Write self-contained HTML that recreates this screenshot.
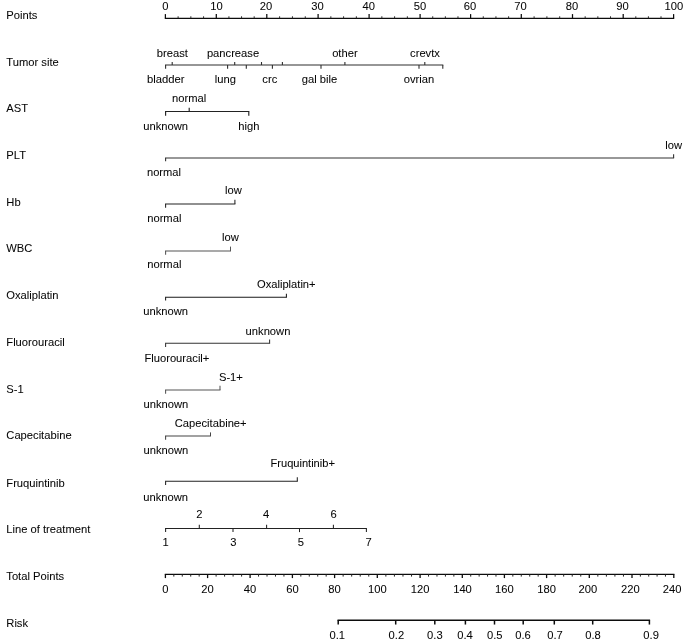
<!DOCTYPE html>
<html><head><meta charset="utf-8"><title>Nomogram</title>
<style>
html,body{margin:0;padding:0;background:#fff;}
body{width:685px;height:642px;overflow:hidden;}
svg{display:block;}
text{font-family:"Liberation Sans",Arial,Helvetica,sans-serif;fill:#050505;stroke:#050505;stroke-width:0.05px;}
path{fill:none;}
</style></head><body>
<svg width="685" height="642" viewBox="0 0 685 642">
<rect width="685" height="642" fill="#fff"/>
<text x="6.30" y="18.80" text-anchor="start" font-size="11.2">Points</text>
<path d="M164.80 18.30L674.20 18.30" stroke="#0c0c0c" stroke-width="1.25"/>
<path d="M165.40 18.30L165.40 14.10" stroke="#0c0c0c" stroke-width="1.25"/>
<text x="165.30" y="10.10" text-anchor="middle" font-size="11.2">0</text>
<path d="M178.12 18.30L178.12 16.30" stroke="#2a2a2a" stroke-width="1.0"/>
<path d="M190.85 18.30L190.85 16.30" stroke="#2a2a2a" stroke-width="1.0"/>
<path d="M203.58 18.30L203.58 16.30" stroke="#2a2a2a" stroke-width="1.0"/>
<path d="M216.30 18.30L216.30 14.10" stroke="#0c0c0c" stroke-width="1.25"/>
<text x="216.40" y="10.10" text-anchor="middle" font-size="11.2">10</text>
<path d="M228.93 18.30L228.93 16.30" stroke="#2a2a2a" stroke-width="1.0"/>
<path d="M241.55 18.30L241.55 16.30" stroke="#2a2a2a" stroke-width="1.0"/>
<path d="M254.18 18.30L254.18 16.30" stroke="#2a2a2a" stroke-width="1.0"/>
<path d="M266.80 18.30L266.80 14.10" stroke="#0c0c0c" stroke-width="1.25"/>
<text x="266.10" y="10.10" text-anchor="middle" font-size="11.2">20</text>
<path d="M279.62 18.30L279.62 16.30" stroke="#2a2a2a" stroke-width="1.0"/>
<path d="M292.45 18.30L292.45 16.30" stroke="#2a2a2a" stroke-width="1.0"/>
<path d="M305.28 18.30L305.28 16.30" stroke="#2a2a2a" stroke-width="1.0"/>
<path d="M318.10 18.30L318.10 14.10" stroke="#0c0c0c" stroke-width="1.25"/>
<text x="317.40" y="10.10" text-anchor="middle" font-size="11.2">30</text>
<path d="M330.85 18.30L330.85 16.30" stroke="#2a2a2a" stroke-width="1.0"/>
<path d="M343.60 18.30L343.60 16.30" stroke="#2a2a2a" stroke-width="1.0"/>
<path d="M356.35 18.30L356.35 16.30" stroke="#2a2a2a" stroke-width="1.0"/>
<path d="M369.10 18.30L369.10 14.10" stroke="#0c0c0c" stroke-width="1.25"/>
<text x="368.80" y="10.10" text-anchor="middle" font-size="11.2">40</text>
<path d="M381.85 18.30L381.85 16.30" stroke="#2a2a2a" stroke-width="1.0"/>
<path d="M394.60 18.30L394.60 16.30" stroke="#2a2a2a" stroke-width="1.0"/>
<path d="M407.35 18.30L407.35 16.30" stroke="#2a2a2a" stroke-width="1.0"/>
<path d="M420.10 18.30L420.10 14.10" stroke="#0c0c0c" stroke-width="1.25"/>
<text x="419.90" y="10.10" text-anchor="middle" font-size="11.2">50</text>
<path d="M432.73 18.30L432.73 16.30" stroke="#2a2a2a" stroke-width="1.0"/>
<path d="M445.35 18.30L445.35 16.30" stroke="#2a2a2a" stroke-width="1.0"/>
<path d="M457.98 18.30L457.98 16.30" stroke="#2a2a2a" stroke-width="1.0"/>
<path d="M470.60 18.30L470.60 14.10" stroke="#0c0c0c" stroke-width="1.25"/>
<text x="469.90" y="10.10" text-anchor="middle" font-size="11.2">60</text>
<path d="M483.27 18.30L483.27 16.30" stroke="#2a2a2a" stroke-width="1.0"/>
<path d="M495.95 18.30L495.95 16.30" stroke="#2a2a2a" stroke-width="1.0"/>
<path d="M508.62 18.30L508.62 16.30" stroke="#2a2a2a" stroke-width="1.0"/>
<path d="M521.30 18.30L521.30 14.10" stroke="#0c0c0c" stroke-width="1.25"/>
<text x="520.50" y="10.10" text-anchor="middle" font-size="11.2">70</text>
<path d="M534.10 18.30L534.10 16.30" stroke="#2a2a2a" stroke-width="1.0"/>
<path d="M546.90 18.30L546.90 16.30" stroke="#2a2a2a" stroke-width="1.0"/>
<path d="M559.70 18.30L559.70 16.30" stroke="#2a2a2a" stroke-width="1.0"/>
<path d="M572.50 18.30L572.50 14.10" stroke="#0c0c0c" stroke-width="1.25"/>
<text x="572.10" y="10.10" text-anchor="middle" font-size="11.2">80</text>
<path d="M585.17 18.30L585.17 16.30" stroke="#2a2a2a" stroke-width="1.0"/>
<path d="M597.85 18.30L597.85 16.30" stroke="#2a2a2a" stroke-width="1.0"/>
<path d="M610.53 18.30L610.53 16.30" stroke="#2a2a2a" stroke-width="1.0"/>
<path d="M623.20 18.30L623.20 14.10" stroke="#0c0c0c" stroke-width="1.25"/>
<text x="622.60" y="10.10" text-anchor="middle" font-size="11.2">90</text>
<path d="M635.80 18.30L635.80 16.30" stroke="#2a2a2a" stroke-width="1.0"/>
<path d="M648.40 18.30L648.40 16.30" stroke="#2a2a2a" stroke-width="1.0"/>
<path d="M661.00 18.30L661.00 16.30" stroke="#2a2a2a" stroke-width="1.0"/>
<path d="M673.60 18.30L673.60 14.10" stroke="#0c0c0c" stroke-width="1.25"/>
<text x="673.80" y="10.10" text-anchor="middle" font-size="11.2">100</text>
<text x="6.30" y="65.60" text-anchor="start" font-size="11.2">Tumor site</text>
<path d="M165.00 65.00L443.30 65.00" stroke="#2e2e2e" stroke-width="1.1"/>
<path d="M165.60 65.00L165.60 68.70" stroke="#2e2e2e" stroke-width="1.1"/>
<text x="165.70" y="83.20" text-anchor="middle" font-size="11.2" textLength="37.6" lengthAdjust="spacingAndGlyphs">bladder</text>
<path d="M172.20 65.00L172.20 62.00" stroke="#2e2e2e" stroke-width="1.1"/>
<text x="172.40" y="56.70" text-anchor="middle" font-size="11.2">breast</text>
<path d="M227.60 65.00L227.60 68.70" stroke="#2e2e2e" stroke-width="1.1"/>
<text x="225.30" y="83.20" text-anchor="middle" font-size="11.2">lung</text>
<path d="M234.70 65.00L234.70 62.00" stroke="#2e2e2e" stroke-width="1.1"/>
<text x="233.00" y="56.70" text-anchor="middle" font-size="11.2">pancrease</text>
<path d="M246.30 65.00L246.30 68.70" stroke="#2e2e2e" stroke-width="1.1"/>
<path d="M261.50 65.00L261.50 62.00" stroke="#2e2e2e" stroke-width="1.1"/>
<path d="M272.40 65.00L272.40 68.70" stroke="#2e2e2e" stroke-width="1.1"/>
<text x="269.80" y="83.20" text-anchor="middle" font-size="11.2">crc</text>
<path d="M282.40 65.00L282.40 62.00" stroke="#2e2e2e" stroke-width="1.1"/>
<path d="M321.00 65.00L321.00 68.70" stroke="#2e2e2e" stroke-width="1.1"/>
<text x="319.50" y="83.20" text-anchor="middle" font-size="11.2">gal bile</text>
<path d="M344.90 65.00L344.90 62.00" stroke="#2e2e2e" stroke-width="1.1"/>
<text x="344.90" y="56.70" text-anchor="middle" font-size="11.2">other</text>
<path d="M419.00 65.00L419.00 68.70" stroke="#2e2e2e" stroke-width="1.1"/>
<text x="419.00" y="83.20" text-anchor="middle" font-size="11.2">ovrian</text>
<path d="M424.80 65.00L424.80 62.00" stroke="#2e2e2e" stroke-width="1.1"/>
<text x="425.00" y="56.70" text-anchor="middle" font-size="11.2">crevtx</text>
<path d="M442.80 65.00L442.80 68.70" stroke="#2e2e2e" stroke-width="1.1"/>
<text x="6.30" y="112.00" text-anchor="start" font-size="11.2">AST</text>
<path d="M165.00 111.45L249.30 111.45" stroke="#222" stroke-width="1.15"/>
<path d="M165.60 111.45L165.60 115.75" stroke="#222" stroke-width="1.15"/>
<text x="165.60" y="129.85" text-anchor="middle" font-size="11.2">unknown</text>
<path d="M189.20 111.45L189.20 107.75" stroke="#222" stroke-width="1.15"/>
<text x="189.20" y="102.45" text-anchor="middle" font-size="11.2">normal</text>
<path d="M248.80 111.45L248.80 115.75" stroke="#222" stroke-width="1.15"/>
<text x="248.80" y="129.85" text-anchor="middle" font-size="11.2">high</text>
<text x="6.30" y="159.00" text-anchor="start" font-size="11.2">PLT</text>
<path d="M165.00 157.95L674.10 157.95" stroke="#333" stroke-width="1.1"/>
<path d="M165.60 157.95L165.60 161.15" stroke="#333" stroke-width="1.1"/>
<text x="164.00" y="175.90" text-anchor="middle" font-size="11.2" textLength="34.0" lengthAdjust="spacingAndGlyphs">normal</text>
<path d="M673.60 157.95L673.60 154.35" stroke="#333" stroke-width="1.1"/>
<text x="673.60" y="149.40" text-anchor="middle" font-size="11.2">low</text>
<text x="6.30" y="205.60" text-anchor="start" font-size="11.2">Hb</text>
<path d="M165.00 204.00L235.40 204.00" stroke="#222" stroke-width="1.05"/>
<path d="M165.60 204.00L165.60 207.70" stroke="#222" stroke-width="1.05"/>
<text x="164.30" y="221.60" text-anchor="middle" font-size="11.2">normal</text>
<path d="M234.90 204.00L234.90 199.80" stroke="#222" stroke-width="1.05"/>
<text x="233.40" y="194.30" text-anchor="middle" font-size="11.2">low</text>
<text x="6.30" y="252.10" text-anchor="start" font-size="11.2">WBC</text>
<path d="M165.00 251.00L231.00 251.00" stroke="#555" stroke-width="1.05"/>
<path d="M165.60 251.00L165.60 254.70" stroke="#555" stroke-width="1.05"/>
<text x="164.30" y="268.40" text-anchor="middle" font-size="11.2">normal</text>
<path d="M230.50 251.00L230.50 246.60" stroke="#555" stroke-width="1.05"/>
<text x="230.50" y="240.90" text-anchor="middle" font-size="11.2">low</text>
<text x="6.30" y="298.90" text-anchor="start" font-size="11.2">Oxaliplatin</text>
<path d="M165.00 297.30L286.90 297.30" stroke="#1a1a1a" stroke-width="1.05"/>
<path d="M165.60 297.30L165.60 300.60" stroke="#1a1a1a" stroke-width="1.05"/>
<text x="165.60" y="314.50" text-anchor="middle" font-size="11.2">unknown</text>
<path d="M286.40 297.30L286.40 293.70" stroke="#1a1a1a" stroke-width="1.05"/>
<text x="286.30" y="287.50" text-anchor="middle" font-size="11.2" textLength="58.6" lengthAdjust="spacingAndGlyphs">Oxaliplatin+</text>
<text x="6.30" y="345.90" text-anchor="start" font-size="11.2">Fluorouracil</text>
<path d="M165.00 343.20L270.10 343.20" stroke="#333" stroke-width="1.05"/>
<path d="M165.60 343.20L165.60 346.90" stroke="#333" stroke-width="1.05"/>
<text x="176.90" y="362.20" text-anchor="middle" font-size="11.2">Fluorouracil+</text>
<path d="M269.60 343.20L269.60 339.60" stroke="#333" stroke-width="1.05"/>
<text x="268.00" y="334.70" text-anchor="middle" font-size="11.2">unknown</text>
<text x="6.30" y="393.10" text-anchor="start" font-size="11.2">S-1</text>
<path d="M165.00 390.00L220.50 390.00" stroke="#555" stroke-width="1.05"/>
<path d="M165.60 390.00L165.60 393.70" stroke="#555" stroke-width="1.05"/>
<text x="165.90" y="407.80" text-anchor="middle" font-size="11.2">unknown</text>
<path d="M220.00 390.00L220.00 385.80" stroke="#555" stroke-width="1.05"/>
<text x="230.90" y="380.80" text-anchor="middle" font-size="11.2">S-1+</text>
<text x="6.30" y="439.20" text-anchor="start" font-size="11.2">Capecitabine</text>
<path d="M165.00 436.00L211.00 436.00" stroke="#444" stroke-width="1.05"/>
<path d="M165.60 436.00L165.60 439.70" stroke="#444" stroke-width="1.05"/>
<text x="165.90" y="453.80" text-anchor="middle" font-size="11.2">unknown</text>
<path d="M210.50 436.00L210.50 432.40" stroke="#444" stroke-width="1.05"/>
<text x="210.70" y="426.50" text-anchor="middle" font-size="11.2" textLength="71.8" lengthAdjust="spacingAndGlyphs">Capecitabine+</text>
<text x="6.30" y="486.90" text-anchor="start" font-size="11.2">Fruquintinib</text>
<path d="M165.00 481.20L297.80 481.20" stroke="#222" stroke-width="1.05"/>
<path d="M165.60 481.20L165.60 484.90" stroke="#222" stroke-width="1.05"/>
<text x="165.60" y="500.50" text-anchor="middle" font-size="11.2">unknown</text>
<path d="M297.30 481.20L297.30 477.20" stroke="#222" stroke-width="1.05"/>
<text x="302.70" y="467.10" text-anchor="middle" font-size="11.2" textLength="64.4" lengthAdjust="spacingAndGlyphs">Fruquintinib+</text>
<text x="6.30" y="532.70" text-anchor="start" font-size="11.2">Line of treatment</text>
<path d="M165.00 528.40L366.90 528.40" stroke="#222" stroke-width="1.05"/>
<path d="M165.60 528.40L165.60 532.10" stroke="#222" stroke-width="1.05"/>
<text x="165.60" y="546.10" text-anchor="middle" font-size="11.2">1</text>
<path d="M199.30 528.40L199.30 524.80" stroke="#222" stroke-width="1.05"/>
<text x="199.40" y="517.80" text-anchor="middle" font-size="11.2">2</text>
<path d="M233.00 528.40L233.00 532.10" stroke="#222" stroke-width="1.05"/>
<text x="233.40" y="546.10" text-anchor="middle" font-size="11.2">3</text>
<path d="M266.60 528.40L266.60 524.80" stroke="#222" stroke-width="1.05"/>
<text x="266.10" y="517.80" text-anchor="middle" font-size="11.2">4</text>
<path d="M299.50 528.40L299.50 532.10" stroke="#222" stroke-width="1.05"/>
<text x="300.80" y="546.10" text-anchor="middle" font-size="11.2">5</text>
<path d="M333.40 528.40L333.40 524.80" stroke="#222" stroke-width="1.05"/>
<text x="333.60" y="517.80" text-anchor="middle" font-size="11.2">6</text>
<path d="M366.40 528.40L366.40 532.10" stroke="#222" stroke-width="1.05"/>
<text x="368.70" y="546.10" text-anchor="middle" font-size="11.2">7</text>
<text x="6.30" y="580.10" text-anchor="start" font-size="11.2">Total Points</text>
<path d="M164.80 574.30L674.40 574.30" stroke="#0c0c0c" stroke-width="1.3"/>
<path d="M165.40 574.30L165.40 578.10" stroke="#0c0c0c" stroke-width="1.3"/>
<text x="165.40" y="592.70" text-anchor="middle" font-size="11.2">0</text>
<path d="M173.84 574.30L173.84 576.60" stroke="#222" stroke-width="1.0"/>
<path d="M182.28 574.30L182.28 576.60" stroke="#222" stroke-width="1.0"/>
<path d="M190.72 574.30L190.72 576.60" stroke="#222" stroke-width="1.0"/>
<path d="M199.16 574.30L199.16 576.60" stroke="#222" stroke-width="1.0"/>
<path d="M207.60 574.30L207.60 578.10" stroke="#0c0c0c" stroke-width="1.3"/>
<text x="207.60" y="592.70" text-anchor="middle" font-size="11.2">20</text>
<path d="M216.10 574.30L216.10 576.60" stroke="#222" stroke-width="1.0"/>
<path d="M224.60 574.30L224.60 576.60" stroke="#222" stroke-width="1.0"/>
<path d="M233.10 574.30L233.10 576.60" stroke="#222" stroke-width="1.0"/>
<path d="M241.60 574.30L241.60 576.60" stroke="#222" stroke-width="1.0"/>
<path d="M250.10 574.30L250.10 578.10" stroke="#0c0c0c" stroke-width="1.3"/>
<text x="250.10" y="592.70" text-anchor="middle" font-size="11.2">40</text>
<path d="M258.56 574.30L258.56 576.60" stroke="#222" stroke-width="1.0"/>
<path d="M267.02 574.30L267.02 576.60" stroke="#222" stroke-width="1.0"/>
<path d="M275.48 574.30L275.48 576.60" stroke="#222" stroke-width="1.0"/>
<path d="M283.94 574.30L283.94 576.60" stroke="#222" stroke-width="1.0"/>
<path d="M292.40 574.30L292.40 578.10" stroke="#0c0c0c" stroke-width="1.3"/>
<text x="292.40" y="592.70" text-anchor="middle" font-size="11.2">60</text>
<path d="M300.84 574.30L300.84 576.60" stroke="#222" stroke-width="1.0"/>
<path d="M309.28 574.30L309.28 576.60" stroke="#222" stroke-width="1.0"/>
<path d="M317.72 574.30L317.72 576.60" stroke="#222" stroke-width="1.0"/>
<path d="M326.16 574.30L326.16 576.60" stroke="#222" stroke-width="1.0"/>
<path d="M334.60 574.30L334.60 578.10" stroke="#0c0c0c" stroke-width="1.3"/>
<text x="334.60" y="592.70" text-anchor="middle" font-size="11.2">80</text>
<path d="M343.14 574.30L343.14 576.60" stroke="#222" stroke-width="1.0"/>
<path d="M351.68 574.30L351.68 576.60" stroke="#222" stroke-width="1.0"/>
<path d="M360.22 574.30L360.22 576.60" stroke="#222" stroke-width="1.0"/>
<path d="M368.76 574.30L368.76 576.60" stroke="#222" stroke-width="1.0"/>
<path d="M377.30 574.30L377.30 578.10" stroke="#0c0c0c" stroke-width="1.3"/>
<text x="377.30" y="592.70" text-anchor="middle" font-size="11.2">100</text>
<path d="M385.86 574.30L385.86 576.60" stroke="#222" stroke-width="1.0"/>
<path d="M394.42 574.30L394.42 576.60" stroke="#222" stroke-width="1.0"/>
<path d="M402.98 574.30L402.98 576.60" stroke="#222" stroke-width="1.0"/>
<path d="M411.54 574.30L411.54 576.60" stroke="#222" stroke-width="1.0"/>
<path d="M420.10 574.30L420.10 578.10" stroke="#0c0c0c" stroke-width="1.3"/>
<text x="420.20" y="592.70" text-anchor="middle" font-size="11.2">120</text>
<path d="M428.54 574.30L428.54 576.60" stroke="#222" stroke-width="1.0"/>
<path d="M436.98 574.30L436.98 576.60" stroke="#222" stroke-width="1.0"/>
<path d="M445.42 574.30L445.42 576.60" stroke="#222" stroke-width="1.0"/>
<path d="M453.86 574.30L453.86 576.60" stroke="#222" stroke-width="1.0"/>
<path d="M462.30 574.30L462.30 578.10" stroke="#0c0c0c" stroke-width="1.3"/>
<text x="462.50" y="592.70" text-anchor="middle" font-size="11.2">140</text>
<path d="M470.72 574.30L470.72 576.60" stroke="#222" stroke-width="1.0"/>
<path d="M479.14 574.30L479.14 576.60" stroke="#222" stroke-width="1.0"/>
<path d="M487.56 574.30L487.56 576.60" stroke="#222" stroke-width="1.0"/>
<path d="M495.98 574.30L495.98 576.60" stroke="#222" stroke-width="1.0"/>
<path d="M504.40 574.30L504.40 578.10" stroke="#0c0c0c" stroke-width="1.3"/>
<text x="504.40" y="592.70" text-anchor="middle" font-size="11.2">160</text>
<path d="M512.84 574.30L512.84 576.60" stroke="#222" stroke-width="1.0"/>
<path d="M521.28 574.30L521.28 576.60" stroke="#222" stroke-width="1.0"/>
<path d="M529.72 574.30L529.72 576.60" stroke="#222" stroke-width="1.0"/>
<path d="M538.16 574.30L538.16 576.60" stroke="#222" stroke-width="1.0"/>
<path d="M546.60 574.30L546.60 578.10" stroke="#0c0c0c" stroke-width="1.3"/>
<text x="546.60" y="592.70" text-anchor="middle" font-size="11.2">180</text>
<path d="M555.14 574.30L555.14 576.60" stroke="#222" stroke-width="1.0"/>
<path d="M563.68 574.30L563.68 576.60" stroke="#222" stroke-width="1.0"/>
<path d="M572.22 574.30L572.22 576.60" stroke="#222" stroke-width="1.0"/>
<path d="M580.76 574.30L580.76 576.60" stroke="#222" stroke-width="1.0"/>
<path d="M589.30 574.30L589.30 578.10" stroke="#0c0c0c" stroke-width="1.3"/>
<text x="587.90" y="592.70" text-anchor="middle" font-size="11.2">200</text>
<path d="M597.84 574.30L597.84 576.60" stroke="#222" stroke-width="1.0"/>
<path d="M606.38 574.30L606.38 576.60" stroke="#222" stroke-width="1.0"/>
<path d="M614.92 574.30L614.92 576.60" stroke="#222" stroke-width="1.0"/>
<path d="M623.46 574.30L623.46 576.60" stroke="#222" stroke-width="1.0"/>
<path d="M632.00 574.30L632.00 578.10" stroke="#0c0c0c" stroke-width="1.3"/>
<text x="630.30" y="592.70" text-anchor="middle" font-size="11.2">220</text>
<path d="M640.36 574.30L640.36 576.60" stroke="#222" stroke-width="1.0"/>
<path d="M648.72 574.30L648.72 576.60" stroke="#222" stroke-width="1.0"/>
<path d="M657.08 574.30L657.08 576.60" stroke="#222" stroke-width="1.0"/>
<path d="M665.44 574.30L665.44 576.60" stroke="#222" stroke-width="1.0"/>
<path d="M673.80 574.30L673.80 578.10" stroke="#0c0c0c" stroke-width="1.3"/>
<text x="672.10" y="592.70" text-anchor="middle" font-size="11.2">240</text>
<text x="6.30" y="626.60" text-anchor="start" font-size="11.2">Risk</text>
<path d="M337.50 620.35L650.10 620.35" stroke="#0c0c0c" stroke-width="1.5"/>
<path d="M338.20 620.35L338.20 624.55" stroke="#0c0c0c" stroke-width="1.5"/>
<text x="337.30" y="639.00" text-anchor="middle" font-size="11.2">0.1</text>
<path d="M395.70 620.35L395.70 624.55" stroke="#0c0c0c" stroke-width="1.5"/>
<text x="396.40" y="639.00" text-anchor="middle" font-size="11.2">0.2</text>
<path d="M434.80 620.35L434.80 624.55" stroke="#0c0c0c" stroke-width="1.5"/>
<text x="434.90" y="639.00" text-anchor="middle" font-size="11.2">0.3</text>
<path d="M465.40 620.35L465.40 624.55" stroke="#0c0c0c" stroke-width="1.5"/>
<text x="465.00" y="639.00" text-anchor="middle" font-size="11.2">0.4</text>
<path d="M494.50 620.35L494.50 624.55" stroke="#0c0c0c" stroke-width="1.5"/>
<text x="494.70" y="639.00" text-anchor="middle" font-size="11.2">0.5</text>
<path d="M523.20 620.35L523.20 624.55" stroke="#0c0c0c" stroke-width="1.5"/>
<text x="523.00" y="639.00" text-anchor="middle" font-size="11.2">0.6</text>
<path d="M554.30 620.35L554.30 624.55" stroke="#0c0c0c" stroke-width="1.5"/>
<text x="555.00" y="639.00" text-anchor="middle" font-size="11.2">0.7</text>
<path d="M592.70 620.35L592.70 624.55" stroke="#0c0c0c" stroke-width="1.5"/>
<text x="593.00" y="639.00" text-anchor="middle" font-size="11.2">0.8</text>
<path d="M649.40 620.35L649.40 624.55" stroke="#0c0c0c" stroke-width="1.5"/>
<text x="651.10" y="639.00" text-anchor="middle" font-size="11.2">0.9</text>
</svg>
</body></html>
